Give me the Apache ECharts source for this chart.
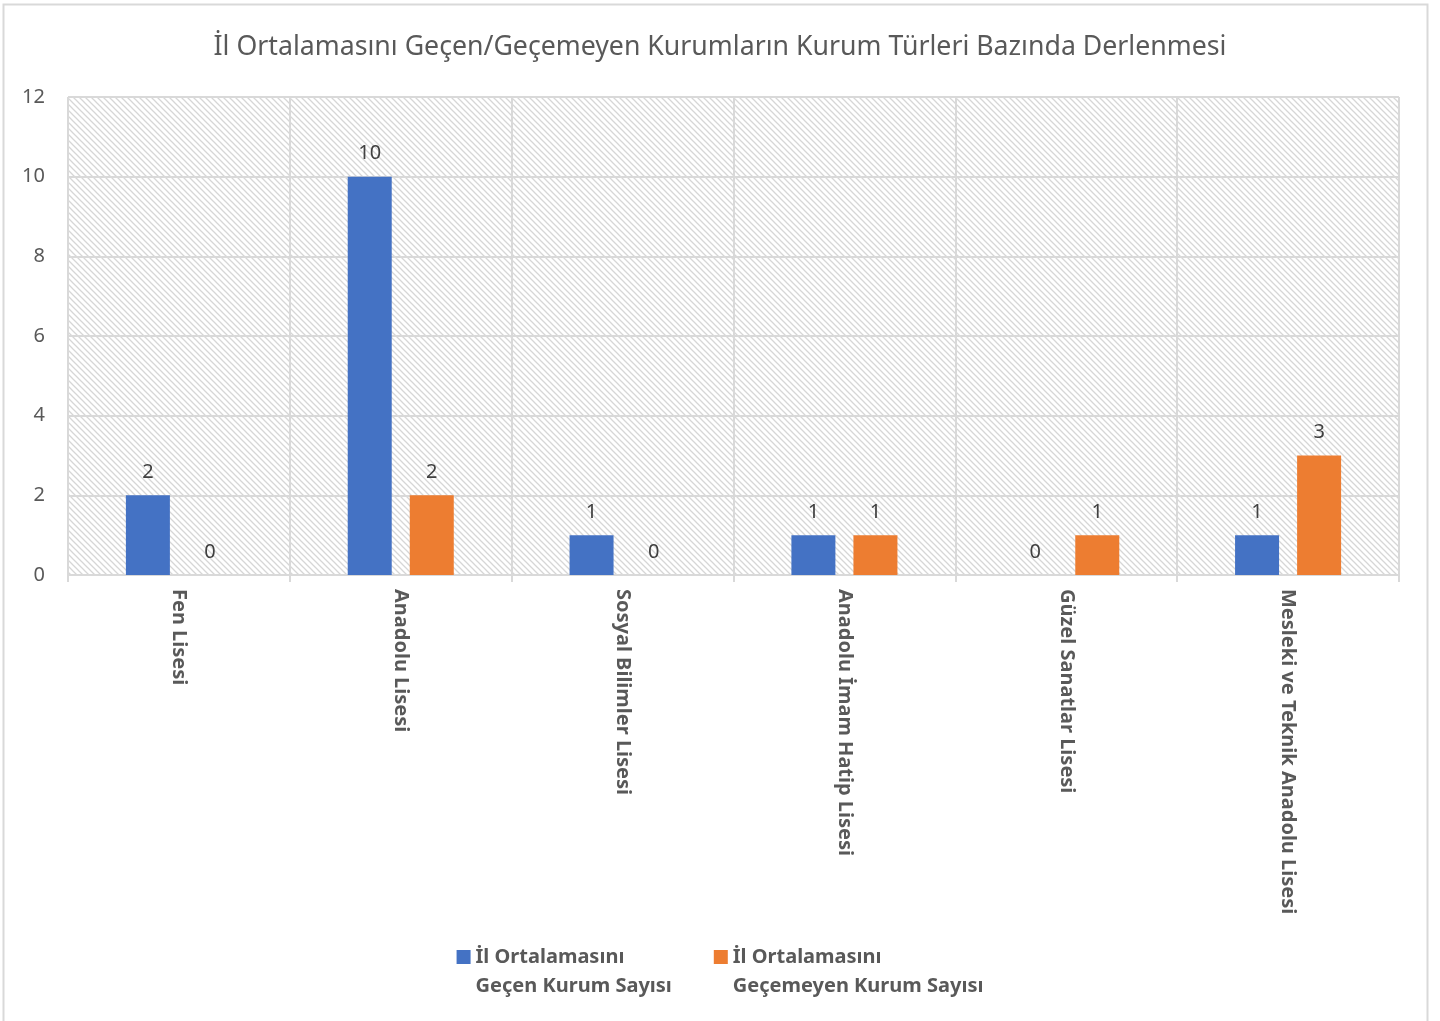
<!DOCTYPE html>
<html>
<head>
<meta charset="utf-8">
<script src="https://cdn.jsdelivr.net/npm/echarts@6/dist/echarts.min.js"></script>
<style>
  html, body { margin: 0; padding: 0; background: #fff; }
  #chart { width: 1440px; height: 1021px; }
</style>
</head>
<body>
<div id="chart"></div>
<script>
  // veriler
  var kategoriler = ['Fen Lisesi', 'Anadolu Lisesi', 'Sosyal Bilimler Lisesi', 'Anadolu İmam Hatip Lisesi', 'Güzel Sanatlar Lisesi', 'Mesleki ve Teknik Anadolu Lisesi'];
  var gecen = [2, 10, 1, 1, 0, 1];
  var gecemeyen = [0, 2, 0, 1, 1, 3];
  var seriAdlari = ['İl Ortalamasını\nGeçen Kurum Sayısı', 'İl Ortalamasını\nGeçemeyen Kurum Sayısı'];
  var baslik = 'İl Ortalamasını Geçen/Geçemeyen Kurumların Kurum Türleri Bazında Derlenmesi';

  // arka plan taraması (çapraz çizgiler)
  var t = 6;
  var tile = document.createElement('canvas');
  tile.width = t; tile.height = t;
  var ctx = tile.getContext('2d');
  ctx.fillStyle = '#ffffff';
  ctx.fillRect(0, 0, t, t);
  ctx.strokeStyle = '#d6d6d6';
  ctx.lineWidth = 1.3;
  ctx.beginPath();
  ctx.moveTo(-1, -1); ctx.lineTo(t + 1, t + 1);
  ctx.moveTo(-t - 1, -1); ctx.lineTo(1, t + 1);
  ctx.moveTo(t - 1, -1); ctx.lineTo(2 * t + 1, t + 1);
  ctx.stroke();

  // legend ikonu: kare üstte, görünmez nokta alt sınırı uzatıyor
  var ikon = 'path://M0,0h14v14h-14z M0,44h0.01v0.01h-0.01z';

  var font = '"Noto Sans", sans-serif';
  var chart = echarts.init(document.getElementById('chart'));
  chart.setOption({
    animation: false,
    color: ['#4472c4', '#ed7d31'],
    textStyle: { fontFamily: font },
    graphic: [{
      type: 'rect',
      shape: { x: 3.5, y: 4.5, width: 1424, height: 1030 },
      style: { fill: 'none', stroke: '#d9d9d9', lineWidth: 2 },
      z: -10
    }],
    title: {
      text: baslik,
      left: 'center',
      top: 29,
      textStyle: { fontFamily: font, fontSize: 26.7, fontWeight: 'normal', color: '#595959' }
    },
    grid: {
      left: 68, right: 41, top: 97, bottom: 446,
      show: true,
      borderWidth: 0,
      backgroundColor: { image: tile, repeat: 'repeat' }
    },
    legend: {
      top: 943,
      left: 'center',
      padding: 0,
      itemWidth: 14,
      itemHeight: 44,
      itemGap: 42,
      icon: ikon,
      textStyle: { fontFamily: font, fontSize: 20, fontWeight: 'bold', color: '#595959', lineHeight: 29, padding: [0, 0, 0, 0] },
      data: seriAdlari
    },
    xAxis: {
      type: 'category',
      data: kategoriler,
      axisLine: { lineStyle: { color: '#d9d9d9', width: 2 } },
      axisTick: { show: true, length: 7, lineStyle: { color: '#d9d9d9', width: 2 } },
      splitLine: { show: true, lineStyle: { color: '#d9d9d9', width: 2 } },
      axisLabel: {
        rotate: -90,
        margin: 14,
        fontFamily: font,
        fontSize: 20,
        fontWeight: 'bold',
        color: '#595959'
      }
    },
    yAxis: {
      type: 'value',
      min: 0,
      max: 12,
      interval: 2,
      axisLine: { show: false },
      axisTick: { show: false },
      splitLine: { lineStyle: { color: '#d9d9d9', width: 2 } },
      axisLabel: { margin: 23, fontFamily: font, fontSize: 20, color: '#595959' }
    },
    series: [{
      name: seriAdlari[0],
      type: 'bar',
      data: gecen,
      barWidth: 44,
      barGap: '41%',
      label: { show: true, position: 'top', distance: 13, fontFamily: font, fontSize: 20, color: '#404040' }
    }, {
      name: seriAdlari[1],
      type: 'bar',
      data: gecemeyen,
      barWidth: 44,
      barGap: '41%',
      label: { show: true, position: 'top', distance: 13, fontFamily: font, fontSize: 20, color: '#404040' }
    }]
  });
</script>
</body>
</html>
